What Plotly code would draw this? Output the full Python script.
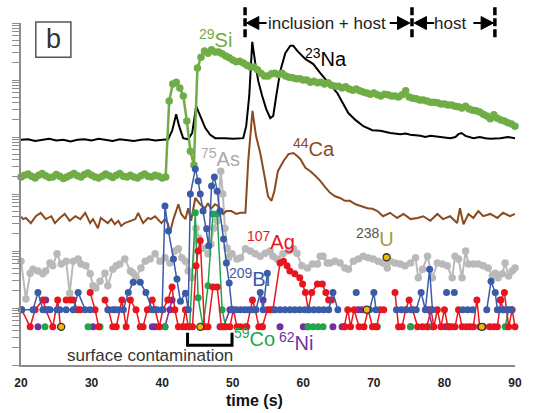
import plotly.graph_objects as go

FONT = "Arial, 'Liberation Sans', sans-serif"

# count levels of the low-signal elements (log10 of plotted intensity)
L1, L2, L3, L4, L5, L6 = -0.33, -0.03, 0.14, 0.27, 0.37, 0.45

# 23Na (line) : (time s, log10 intensity)
na_time = [20, 21, 22, 23, 24, 25, 26, 27, 28, 29, 30, 31, 32, 33, 34, 35, 36, 37, 38, 39, 40,
           40.85, 41.42, 41.99, 42.41, 42.98, 43.69, 44.26, 44.82, 45.39, 46.1, 46.81, 47.52, 48.94, 50.07,
           51.49, 51.91, 52.34, 52.77, 53.19, 53.62, 54.18, 54.75, 55.32, 55.74, 56.17, 56.74, 57.45, 58.16,
           58.58, 59.15, 60.28, 61.42, 62.41, 63.83, 64.82, 65.67, 66.38, 67.38, 68.51, 69.79, 70.92, 72.34,
           73.76, 74.5, 75.18, 76.6, 77.3, 78.01, 79.43, 80.85, 81.56, 81.99, 82.41, 82.98, 84.11, 85.0,
           85.82, 86.5, 87.94, 89.0, 90]
na_log = [2.95, 2.96, 2.93, 2.95, 2.97, 2.94, 2.95, 2.92, 2.95, 2.96, 2.94, 2.97, 2.95, 2.93, 2.96, 2.95,
          2.93, 2.95, 2.96, 2.94, 2.95,
          2.96, 3.11, 3.40, 3.19, 2.98, 2.96, 3.07, 3.54, 3.37, 3.16, 3.04, 2.98, 2.98, 2.97,
          2.98, 3.19, 3.72, 4.67, 4.30, 3.98, 3.72, 3.49, 3.33, 3.37, 3.72, 4.16, 4.47, 4.60,
          4.60, 4.51, 4.37, 4.28, 4.12, 3.91, 3.77, 3.58, 3.42, 3.30, 3.19, 3.12, 3.11, 3.07,
          3.05, 3.06, 3.04, 3.02, 3.00, 3.02, 3.00, 2.98, 3.00, 3.05, 3.07, 3.02, 2.98, 3.00,
          2.98, 2.97, 2.98, 3.00, 2.98]

# 29Si sampled every 0.5 s from 20 s
si_log = [2.30, 2.33, 2.35, 2.31, 2.28, 2.33, 2.36, 2.32, 2.29, 2.30,
          2.34, 2.31, 2.27, 2.30, 2.33, 2.36, 2.32, 2.30, 2.34, 2.37,
          2.33, 2.30, 2.28, 2.31, 2.35, 2.32, 2.29, 2.33, 2.36, 2.31,
          2.30, 2.33, 2.30, 2.28, 2.32, 2.35, 2.31, 2.30, 2.33, 2.31,
          2.28, 2.30,
          3.63, 3.93, 3.96, 3.86, 3.72, 3.28, 2.75, 2.51, 4.21, 4.40,
          4.51, 4.47, 4.53, 4.49, 4.49, 4.46, 4.42, 4.39, 4.35, 4.32,
          4.33, 4.30, 4.26, 4.23, 4.23, 4.18, 4.12, 4.07, 4.07, 4.11,
          4.12, 4.09, 4.12, 4.07, 4.05, 4.04, 4.02, 4.02, 4.00, 4.00,
          3.96, 3.98, 3.95, 3.96, 3.93, 3.95, 3.91, 3.89, 3.89, 3.86,
          3.88, 3.84, 3.82, 3.84, 3.81, 3.79, 3.77, 3.75, 3.77, 3.74,
          3.72, 3.75, 3.74, 3.72, 3.72, 3.70, 3.74, 3.81, 3.70, 3.68,
          3.67, 3.65, 3.65, 3.63, 3.61, 3.61, 3.60, 3.58, 3.58, 3.56,
          3.56, 3.54, 3.53, 3.51, 3.54, 3.49, 3.47, 3.46, 3.44, 3.40,
          3.37, 3.32, 3.39, 3.33, 3.30, 3.28, 3.25, 3.23, 3.19]
si_time = [20 + 0.5 * k for k in range(len(si_log))]

# 44Ca (line)
ca_points = [(20.0, 1.60), (20.3, 1.56), (20.7, 1.58), (21.4, 1.49), (22.1, 1.61), (22.8, 1.67), (23.5, 1.56),
             (24.3, 1.61), (24.8, 1.49), (25.5, 1.58), (26.2, 1.65), (26.9, 1.53), (27.7, 1.61), (28.4, 1.56),
             (29.1, 1.67), (29.8, 1.49), (30.2, 1.56), (30.9, 1.40), (31.3, 1.58), (31.9, 1.53), (32.3, 1.49),
             (32.8, 1.56), (33.3, 1.47), (33.8, 1.53), (34.2, 1.44), (34.7, 1.49), (35.5, 1.53), (36.2, 1.56),
             (36.6, 1.67), (37.3, 1.49), (38.0, 1.58), (38.4, 1.56), (39.0, 1.61), (39.4, 1.56), (39.9, 1.49),
             (40.4, 1.56), (40.8, 1.49), (41.1, 1.32), (41.6, 1.56), (42.3, 1.82), (42.7, 1.65), (43.3, 1.56),
             (43.7, 1.75), (44.1, 1.53), (44.7, 1.93), (45.4, 1.82), (46.1, 1.75), (46.5, 1.84), (46.9, 1.74),
             (47.5, 1.82), (47.9, 1.79), (48.6, 1.65), (49.1, 1.70), (49.8, 1.70), (50.5, 1.65), (51.1, 1.67),
             (51.8, 1.67), (52.2, 2.58), (52.8, 3.46), (53.3, 3.02), (53.9, 2.72), (54.5, 2.32), (55.0, 1.96),
             (55.5, 1.88), (55.9, 2.05), (56.4, 2.40), (57.2, 2.58), (57.9, 2.70), (58.6, 2.72), (59.1, 2.67),
             (59.6, 2.61), (60.3, 2.46), (61.0, 2.40), (61.7, 2.32), (62.4, 2.23), (63.1, 2.12), (63.8, 2.02),
             (64.5, 1.96), (65.2, 1.93), (65.9, 1.88), (66.6, 1.88), (67.4, 1.82), (68.1, 1.79), (69.1, 1.75),
             (69.8, 1.74), (70.5, 1.70), (71.3, 1.61), (72.3, 1.67), (73.3, 1.58), (74.2, 1.65), (75.2, 1.56),
             (76.2, 1.58), (77.0, 1.61), (78.0, 1.53), (79.0, 1.65), (79.8, 1.56), (80.8, 1.61), (81.8, 1.49),
             (82.2, 1.75), (82.7, 1.47), (83.4, 1.65), (84.1, 1.58), (84.8, 1.70), (85.5, 1.61), (86.5, 1.65),
             (87.5, 1.58), (88.3, 1.67), (89.3, 1.61), (90.0, 1.65)]

# 75As (markers)
as_points = [(20.0, 0.82), (20.7, 0.16), (21.3, 0.61), (21.7, 0.68), (22.4, 0.65), (23.1, 0.60), (23.5, 0.65),
             (24.1, 0.79), (24.5, 0.74), (25.1, 0.95), (25.7, 0.77), (26.4, 0.82), (26.9, 0.26), (27.4, 0.82),
             (28.1, 0.86), (28.5, 0.77), (29.2, 0.74), (29.8, 0.60), (30.2, 0.39), (30.6, 0.35), (31.2, 0.47),
             (31.9, 0.61), (32.3, 0.39), (33.0, 0.68), (33.5, 0.74), (34.0, 0.77), (34.7, 0.86), (35.5, 0.65),
             (35.9, 0.61), (36.3, 0.53), (37.0, 0.70), (37.6, 0.82), (38.3, 0.86), (39.0, 0.95), (39.7, 0.82),
             (40.4, 0.88), (41.1, 0.79), (41.8, 1.00), (42.3, 1.04), (42.8, 0.88), (43.3, 0.82), (43.7, 0.65),
             (44.2, 0.53), (44.8, 1.40), (45.2, 1.23), (45.8, 1.05), (46.5, 0.95), (46.9, 1.12), (47.3, 1.40),
             (47.8, 1.53), (48.3, 2.40), (48.6, 2.00), (48.9, 1.40), (49.2, 1.05), (49.4, 0.88), (49.9, 0.95),
             (50.6, 0.86), (51.1, 0.88), (51.8, 1.04), (52.5, 1.00), (53.2, 0.95), (53.9, 0.91), (54.6, 0.96),
             (55.3, 1.00), (55.7, 0.91), (56.3, 0.86), (57.1, 0.95), (57.9, 1.00), (58.6, 1.04), (59.1, 0.96),
             (59.8, 0.74), (60.6, 0.70), (61.3, 0.77), (62.0, 0.77), (62.4, 0.91), (62.8, 0.91), (63.4, 0.79),
             (63.8, 0.79), (64.5, 0.82), (65.2, 0.79), (65.9, 0.70), (66.4, 0.68), (67.1, 0.82), (67.8, 0.86),
             (68.5, 0.91), (69.2, 0.88), (69.9, 0.86), (70.6, 0.82), (71.3, 0.79), (71.9, 0.70), (72.3, 0.82),
             (73.0, 0.79), (73.7, 0.77), (74.4, 0.74), (75.2, 0.79), (75.9, 0.88), (76.3, 0.53), (76.9, 0.68),
             (77.6, 0.91), (78.3, 0.53), (79.0, 0.79), (79.7, 0.77), (80.4, 0.74), (81.1, 0.53), (81.5, 0.91),
             (82.0, 0.86), (82.5, 0.53), (83.0, 1.00), (83.4, 0.77), (84.1, 0.77), (84.8, 0.77), (85.5, 0.74),
             (86.2, 0.70), (86.8, 0.56), (87.2, 0.61), (87.6, 0.53), (88.2, 0.60), (88.6, 0.79), (89.1, 0.56),
             (89.6, 0.65), (90.0, 0.70)]

# 209Bi (None = no counts, line break)
bi_points = [(20.1, L2), (21.7, L2), (22.4, L4), (23.1, L2), (23.8, L2), (24.1, L2), (25.1, L2), (25.5, L2),
             (26.4, L2), (27.4, L2), (28.1, L4), (29.1, L2), (29.8, L2), None,
             (32.3, L2), (33.0, L2), (33.8, L2), (34.5, L2), (35.2, L4), (35.9, L6), (36.9, L6), (37.7, L4),
             (38.6, L2), (39.3, L2), (40.0, L2),
             (40.4, 1.79), (40.9, 1.35), (41.6, 0.86), (42.1, 0.51), (42.6, 0.12), (43.3, 0.26), (43.7, L2),
             (44.0, 2.00), (44.7, 2.44), (45.1, 2.23), (45.4, 2.00), (45.8, 1.70), (46.3, 1.39), (46.6, 1.09),
             (47.0, 2.14), (47.4, 2.30), (47.8, 2.05), (48.2, 1.70), (48.7, 1.21), (49.1, 0.79), (49.5, 0.44),
             (49.9, L2), (50.5, L2), (51.1, L2), (51.7, L2), (52.2, L2), (52.8, L2), (53.3, L2), (53.9, L4),
             (54.3, L2), (54.9, 0.61), None,
             (56.0, L2), (56.7, L2), (57.4, L2), (58.1, L2), (58.8, L2), (59.5, L2), (60.2, L2), (60.8, L2),
             (61.5, L2), (62.2, L2), (62.9, L2), (63.6, L2), (64.2, L4), (64.9, L2), None,
             (67.5, L4), None, (69.4, L2), (70.0, L4), (70.3, L2), None,
             (73.2, L2), (73.9, L2), (74.6, L2), (75.3, L2), (76.0, L2), (76.7, L4), (77.3, L2), (77.9, 0.68),
             (78.3, L2), None, (80.3, L4), None, (81.4, L4), None, (82.6, L2), (83.3, L2), (84.0, L2), None,
             (86.0, L2), (86.6, 0.47), (87.2, L4), (87.5, L2), (88.2, L2), (88.9, L2), (89.5, L2)]

# 107Ag
ag_points = [(20.1, L2), (21.3, L1), (22.0, L2), (23.1, L3), (23.5, L2), (24.5, L1), (25.2, L3), (25.6, L1), None,
             (26.4, L3), (27.0, L3), (27.4, L3), (28.0, L2), (28.4, L2), None,
             (29.8, L4), (30.5, L2), (31.0, L1), None,
             (31.9, L3), (32.4, L2), (33.0, L1), (33.5, L1), (34.3, L3), (34.9, L1), (35.5, L3), (36.3, L2),
             (36.9, L1), (37.3, L1), (37.9, L2), (38.6, L3), (39.0, L2), (39.6, L1), (40.1, L2), (40.8, L3),
             (41.4, L5), (41.8, L2), (42.3, L1), (42.9, L1), (43.3, L2), (43.7, L1), (44.3, L1), (44.8, 0.74),
             (45.1, 1.00), (45.4, 1.18), (46.0, L1), (46.5, L1), (47.2, L5), (47.8, L5), (48.4, L1), (49.0, L1),
             (49.6, L1), (50.1, L2), (50.6, L1), (51.1, L1), (52.0, L1), (52.8, L3), (53.2, L2), (53.7, L1),
             (54.2, L1), (54.9, L2), (55.3, L2), (55.7, L2),
             (56.7, 0.79), (57.2, 0.82), (57.7, 0.74), (58.1, 0.65), (58.8, 0.60), (59.5, 0.53), (59.9, 0.42),
             (60.3, L4), (60.7, L2), (61.2, L4), (62.0, 0.42), (62.7, 0.42), (63.2, L4), (63.6, L3), (64.0, L3), None,
             (65.8, L1), (66.3, L2), (66.7, L1), (67.2, L2), (67.9, L1), (68.6, L1), (69.2, L2), (69.8, L1),
             (70.4, L1), (70.9, L2), (71.4, L2), None,
             (73.0, L4), (73.5, L1), (74.0, L1), (74.5, L2), (75.0, L3), (75.5, L2), (76.2, L1), (76.9, L1),
             (77.5, L1), (78.1, L2), (78.5, L1), (79.0, L2), (79.5, L1), (80.0, L2), (80.5, L1), (81.0, L1),
             (81.5, L1), (82.0, L2), (82.5, L1), (83.1, L1), (83.6, L1), (84.1, L1), (84.6, L3), (85.0, L1),
             (85.5, L1), None,
             (86.4, L1), (87.0, L1), (87.5, L1), (88.0, L3), (88.5, L4), (89.1, L1), (89.6, L2), (90.0, L1)]

# 59Co
co_points = [(23.4, L1), None, (29.5, L1), None, (31.2, L1), None, (40.4, L1), None,
             (43.9, L1), (44.7, 1.67), (45.1, 0.18), (45.8, L1), (46.5, 0.39), (47.2, 1.65), (47.8, 1.65),
             (48.5, L2), (49.0, L1), None, (51.8, L1), None, (54.2, L1), None,
             (60.7, L1), (61.4, L1), (62.1, L1), (62.8, L1), None, (70.5, L1), None, (75.2, L1), None,
             (77.7, L1), None, (88.6, L1), (89.1, L2)]

# 62Ni
ni_points = [(22.4, L1), None, (23.5, L3), None, (30.2, L1), None, (33.3, L2), None, (38.6, L1), (39.0, L1), None,
             (40.4, L1), (41.1, L2), (41.4, L3), None, (43.3, L1), None, (48.2, L1), (48.7, L1), (49.6, L2), None,
             (54.3, L3), None, (56.7, L1), None, (60.0, L1), (60.6, L1), None, (64.2, L1), None,
             (65.5, L1), (65.9, L1), None, (67.8, L2), (68.3, L2), None, (70.2, L1), None, (75.2, L1), None,
             (77.7, L2), (78.3, L1), None, (80.1, L1), (80.6, L1), None, (85.5, L1), None, (87.9, L3), (88.4, L2)]

# 238U (isolated counts)
u_points = [(25.7, L1), (45.4, L1), (69.0, L2), (71.8, 0.89), (85.3, L1)]

x_ticks = [20, 30, 40, 50, 60, 70, 80, 90]
phase_bounds_s = [51.75, 75.4, 87.15]
contamination_s = [43.6, 49.9]

C_NA, C_SI, C_CA, C_AS = "#000000", "#70ad47", "#8b4a1f", "#b9b9b9"
C_AG, C_BI, C_CO, C_NI = "#e8151f", "#3a5ca8", "#1fa64c", "#7030a0"
C_U = "#f2b705"


def unpack(points):
    xs, ys = [], []
    for p in points:
        if p is None:
            xs.append(None)
            ys.append(None)
        else:
            xs.append(p[0])
            ys.append(10 ** p[1])
    return xs, ys


fig = go.Figure()

x, y = unpack(as_points)
fig.add_trace(go.Scatter(x=x, y=y, mode="lines+markers", line=dict(color=C_AS, width=2),
                         marker=dict(size=7.5, color=C_AS), cliponaxis=False))
x, y = unpack(ca_points)
fig.add_trace(go.Scatter(x=x, y=y, mode="lines", line=dict(color=C_CA, width=2)))
fig.add_trace(go.Scatter(x=na_time, y=[10 ** v for v in na_log], mode="lines",
                         line=dict(color=C_NA, width=2)))
fig.add_trace(go.Scatter(x=si_time, y=[10 ** v for v in si_log], mode="lines+markers",
                         line=dict(color=C_SI, width=2.5), marker=dict(size=7.5, color=C_SI), cliponaxis=False))
for pts, col in [(ni_points, C_NI), (co_points, C_CO), (ag_points, C_AG), (bi_points, C_BI)]:
    x, y = unpack(pts)
    fig.add_trace(go.Scatter(x=x, y=y, mode="lines+markers", line=dict(color=col, width=1.5),
                             marker=dict(size=7, color=col), connectgaps=False, cliponaxis=False))
x, y = unpack(u_points)
fig.add_trace(go.Scatter(x=x, y=y, mode="markers", cliponaxis=False,
                         marker=dict(size=7, color=C_U, line=dict(color="#333333", width=1.3))))

labels = [
    ("<sup>29</sup>Si", 47.5, 0.956, C_SI),
    ("<sup>23</sup>Na", 63.2, 0.898, C_NA),
    ("<sup>75</sup>As", 48.2, 0.608, "#aaaaaa"),
    ("<sup>44</sup>Ca", 61.5, 0.637, C_CA),
    ("<sup>107</sup>Ag", 55.4, 0.365, C_AG),
    ("<sup>209</sup>Bi", 52.4, 0.257, C_BI),
    ("<sup>59</sup>Co", 53.1, 0.079, C_CO),
    ("<sup>62</sup>Ni", 58.9, 0.070, C_NI),
    ("<sup><span style='color:#555555'>238</span></sup>U", 70.1, 0.374, "#a89a3c"),
]
for txt, tx, py, col in labels:
    fig.add_annotation(x=tx, y=py, xref="x", yref="paper", text=txt, showarrow=False,
                       font=dict(family=FONT, size=20, color=col), xanchor="center", yanchor="middle")

# phase boundaries (dashed) and arrows (tail line + filled head)
for b in phase_bounds_s:
    fig.add_shape(type="line", xref="x", yref="paper", x0=b, x1=b, y0=0.958, y1=1.05,
                  line=dict(color="black", width=3.5, dash="8px,3px"))
HEAD_S, TAIL_S, HALF_H = 1.75, 1.1, 0.019  # arrow geometry: seconds / paper units
arrow_specs = [(phase_bounds_s[0] + 0.2, +1), (phase_bounds_s[1] - 0.3, -1),
               (phase_bounds_s[1] + 0.3, +1), (phase_bounds_s[2] - 0.2, -1)]
for tip, direction in arrow_specs:
    base = tip + direction * HEAD_S
    tail = base + direction * TAIL_S
    fig.add_shape(type="path", xref="x", yref="paper",
                  path=f"M {tip},1.0 L {base},{1.0 + HALF_H} L {base},{1.0 - HALF_H} Z",
                  fillcolor="black", line=dict(color="black", width=1))
    fig.add_shape(type="line", xref="x", yref="paper", x0=base, x1=tail, y0=1.0, y1=1.0,
                  line=dict(color="black", width=2))
fig.add_annotation(x=63.35, y=1.0, xref="x", yref="paper", text="inclusion + host", showarrow=False,
                   font=dict(family=FONT, size=17, color="#222222"), xanchor="center", yanchor="middle")
fig.add_annotation(x=80.8, y=1.0, xref="x", yref="paper", text="host", showarrow=False,
                   font=dict(family=FONT, size=17, color="#222222"), xanchor="center", yanchor="middle")

# surface contamination bracket
c0, c1 = contamination_s
fig.add_shape(type="path", xref="x", yref="paper",
              path=f"M {c0},0.094 L {c0},0.058 L {c1},0.058 L {c1},0.094",
              line=dict(color="black", width=3))
fig.add_annotation(x=38.3, y=0.029, xref="x", yref="paper", text="surface contamination", showarrow=False,
                   font=dict(family=FONT, size=17, color="#333333"), xanchor="center", yanchor="middle")

# panel letter
fig.add_shape(type="rect", xref="paper", yref="paper", x0=0.030, x1=0.101, y0=0.900, y1=1.003,
              line=dict(color="#555555", width=1.5), fillcolor="white")
fig.add_annotation(x=0.0655, y=0.952, xref="paper", yref="paper", text="b", showarrow=False,
                   font=dict(family=FONT, size=27, color="#333333"), xanchor="center", yanchor="middle")

fig.add_annotation(x=53.1, y=-0.103, xref="x", yref="paper", text="<b>time (s)</b>", showarrow=False,
                   font=dict(family=FONT, size=16, color="#111111"), xanchor="center", yanchor="middle")

fig.update_layout(
    width=533, height=413, margin=dict(l=21, r=18, t=23, b=48),
    paper_bgcolor="white", plot_bgcolor="white", showlegend=False,
    xaxis=dict(range=[20, 90], tickvals=x_ticks, ticktext=[str(v) for v in x_ticks],
               tickfont=dict(family=FONT, size=12, color="#222222", weight="bold"),
               showline=True, linecolor="#8c8c8c", linewidth=1.5, showgrid=False, zeroline=False,
               ticks="outside", ticklen=6, tickcolor="rgba(0,0,0,0)"),
    yaxis=dict(type="log", range=[-1, 5], dtick="D1", showticklabels=False, ticks="outside",
               ticklen=7, tickwidth=1, tickcolor="#8c8c8c", showline=True, linecolor="#8c8c8c",
               linewidth=1.5, showgrid=False, zeroline=False),
)

fig.write_html("out.html")
